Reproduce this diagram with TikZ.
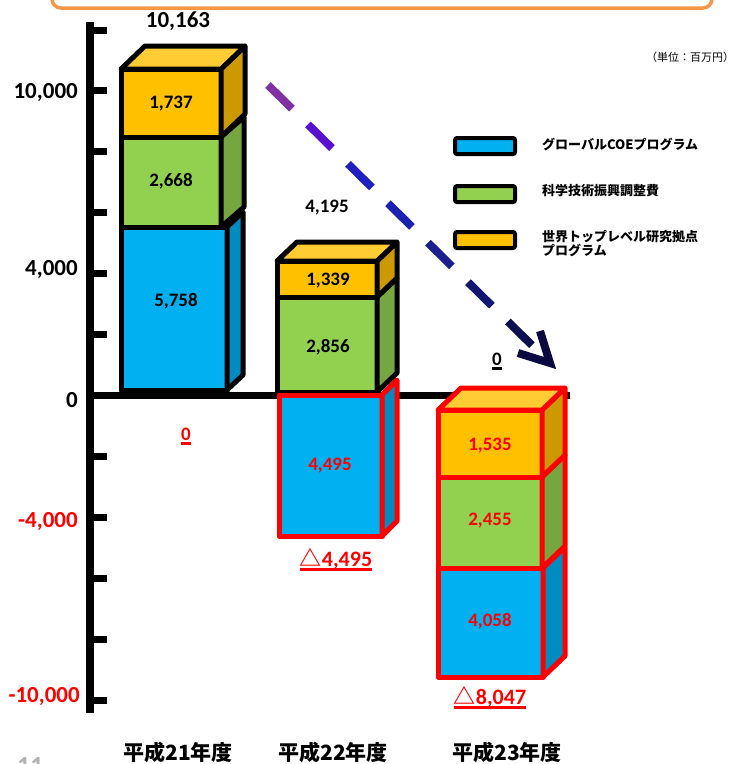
\documentclass[tikz,border=0pt]{standalone}
\usepackage{fontspec}
\setmainfont{Carlito}
\newfontfamily\jp{Noto Sans CJK JP}
\usetikzlibrary{calc}
\definecolor{cblue}{RGB}{0,176,240}
\definecolor{cblueS}{RGB}{0,140,192}
\definecolor{cgreen}{RGB}{146,208,80}
\definecolor{cgreenS}{RGB}{118,166,64}
\definecolor{cyel}{RGB}{255,192,0}
\definecolor{cyelS}{RGB}{204,153,0}
\definecolor{cyelT}{RGB}{255,204,51}
\definecolor{corange}{RGB}{247,150,70}
\definecolor{cred}{RGB}{255,0,0}
\definecolor{ar1}{RGB}{128,48,160}
\definecolor{ar2}{RGB}{90,16,208}
\definecolor{ar3}{RGB}{32,32,192}
\definecolor{ar4}{RGB}{26,32,176}
\definecolor{ar5}{RGB}{26,32,144}
\definecolor{ar6}{RGB}{16,24,112}
\definecolor{ar7}{RGB}{13,16,80}
\definecolor{ar8}{RGB}{10,10,64}
\tikzset{
  barline/.style={line width=5pt, line join=round},
  val/.style={font=\fontsize{19}{19}\selectfont\bfseries, inner sep=0pt},
  axlab/.style={font=\fontsize{23}{23}\selectfont\bfseries, inner sep=0pt, anchor=east},
  yearlab/.style={font=\jp\fontsize{21}{21}\selectfont\bfseries, inner sep=0pt},
  legbox/.style={draw=black, line width=4pt, rounded corners=2pt, minimum width=60pt, minimum height=16pt, inner sep=0pt},
  legtxt/.style={font=\jp\fontsize{13}{14}\selectfont\bfseries, inner sep=0pt, anchor=west, align=left},
  difflab/.style={font=\fontsize{22}{22}\selectfont\bfseries, text=cred, inner sep=0pt, anchor=base},
  uline/.style={line width=3pt},
}
\newcommand\cubeblk[9]{%
  \filldraw[barline, draw=#9, fill=#7] (#1,#2) rectangle (#3,#4);
  \filldraw[barline, draw=#9, fill=#8] (#3,#2) -- ({#3+#5},{#2+#6}) -- ({#3+#5},{#4+#6}) -- (#3,#4) -- cycle;}
\newcommand\cubetop[7]{%
  \filldraw[barline, draw=#7, fill=#6] (#1,#2) -- ({#1+#4},{#2+#5}) -- ({#3+#4},{#2+#5}) -- (#3,#2) -- cycle;}
\begin{document}
\begin{tikzpicture}[x=1pt,y=-1pt]
\useasboundingbox (0,0) rectangle (738,764);
\clip (0,0) rectangle (738,764);
% frame at top
\draw[corange, line width=3.5pt, rounded corners=9pt] (52,-40) rectangle (712,8);
% page number (cut off at the bottom edge, as in the reference)
\node[anchor=north west, text=gray!60, font=\fontsize{26}{26}\selectfont\bfseries, inner sep=0pt] (pg) at (17,757) {11};
% unit
\node[font=\jp\fontsize{11}{11}\selectfont, inner sep=0pt] (unit) at (690,57) {（単位：百万円）};
% axis
\draw[line width=8pt] (90,22) -- (90,713);
\foreach \ty in {30,90,151,212,273,334,456,517,578,639,700}
  \draw[line width=7pt] (90,\ty) -- (107,\ty);
\draw[line width=7pt] (90,395) -- (570,395);
% axis labels
\node[axlab] (y1) at (78,93) {10,000};
\node[axlab] (y2) at (78,270) {4,000};
\node[axlab] (y3) at (78,400) {0};
\node[axlab, text=cred] (y4) at (78,522) {-4,000};
\node[axlab, text=cred] (y5) at (80,697) {-10,000};
% bar FY21
\cubeblk{121}{227}{227}{390}{16}{-15}{cblue}{cblueS}{black}
\cubeblk{121}{137}{221}{227}{23}{-20}{cgreen}{cgreenS}{black}
\cubeblk{121}{69}{221}{137}{24}{-23}{cyel}{cyelS}{black}
\cubetop{121}{69}{221}{24}{-23}{cyelT}{black}
\node[val] (a1) at (171,104) {1,737};
\node[val] (a2) at (171,181) {2,668};
\node[val] (a3) at (176,301) {5,758};
\node[font=\fontsize{23}{23}\selectfont\bfseries, inner sep=0pt] (t1) at (178,21) {10,163};
% bar FY22
\cubeblk{277}{297}{377}{392}{20}{-19}{cgreen}{cgreenS}{black}
\cubeblk{277}{261}{377}{297}{20}{-19}{cyel}{cyelS}{black}
\cubetop{277}{261}{377}{20}{-19}{cyelT}{black}
\cubeblk{279}{395}{382}{536}{15}{-15}{cblue}{cblueS}{cred}
\node[val] (b1) at (328,281) {1,339};
\node[val] (b2) at (328,347) {2,856};
\node[val, text=cred] (b3) at (330,466) {4,495};
\node[val] (t2) at (327,208) {4,195};
% bar FY23
\cubeblk{438}{568}{543}{677}{22}{-21}{cblue}{cblueS}{cred}
\cubeblk{438}{477}{542}{568}{23}{-22}{cgreen}{cgreenS}{cred}
\cubeblk{438}{410}{542}{477}{23}{-22}{cyel}{cyelS}{cred}
\cubetop{438}{410}{542}{23}{-22}{cyelT}{cred}
\node[val, text=cred] (c1) at (490,446) {1,535};
\node[val, text=cred] (c2) at (490,521) {2,455};
\node[val, text=cred] (c3) at (490,621) {4,058};
% difference labels
\node[val, text=cred, anchor=base] (d1) at (186,440) {0};
\draw[uline, cred] ([yshift=-3.5pt]d1.base west) -- ([yshift=-3.5pt]d1.base east);
\node[val, anchor=base] (d3) at (497,365) {0};
\draw[uline] ([yshift=-3.5pt]d3.base west) -- ([yshift=-3.5pt]d3.base east);
\node[difflab] (d2) at (336,566) {{\jp\bfseries △}4,495};
\draw[uline, cred] ([yshift=-3.5pt]d2.base west) -- ([yshift=-3.5pt]d2.base east);
\node[difflab] (d4) at (490,704) {{\jp\bfseries △}8,047};
\draw[uline, cred] ([yshift=-3.5pt]d4.base west) -- ([yshift=-3.5pt]d4.base east);
% year labels
\node[yearlab] (f1) at (178,752) {平成21年度};
\node[yearlab] (f2) at (333,752) {平成22年度};
\node[yearlab] (f3) at (507,752) {平成23年度};
% legend
\node[legbox, fill=cblue] (l1) at (485,146) {};
\node[legbox, fill=cgreen] (l2) at (485,194) {};
\node[legbox, fill=cyel] (l3) at (485,240) {};
\node[legtxt] (lt1) at (542,144) {グローバルCOEプログラム};
\node[legtxt] (lt2) at (542,191) {科学技術振興調整費};
\node[legtxt] (lt3) at (542,244) {世界トップレベル研究拠点\\プログラム};
% trend arrow
\coordinate (arS) at (268,85);
\coordinate (arE) at (550,363);
\foreach \i/\c in {0/ar1,1/ar2,2/ar3,3/ar4,4/ar5,5/ar6,6/ar7}{
  \pgfmathsetmacro\ta{\i*0.1418}
  \pgfmathsetmacro\tb{\i*0.1418+0.085}
  \draw[\c, line width=8pt] ($(arS)!\ta!(arE)$) -- ($(arS)!\tb!(arE)$);
}
\draw[ar8, line width=8pt, line join=miter] ($(arE)+(-32,-10)$) -- (arE) -- ($(arE)+(-10,-32)$);
\end{tikzpicture}
\end{document}
